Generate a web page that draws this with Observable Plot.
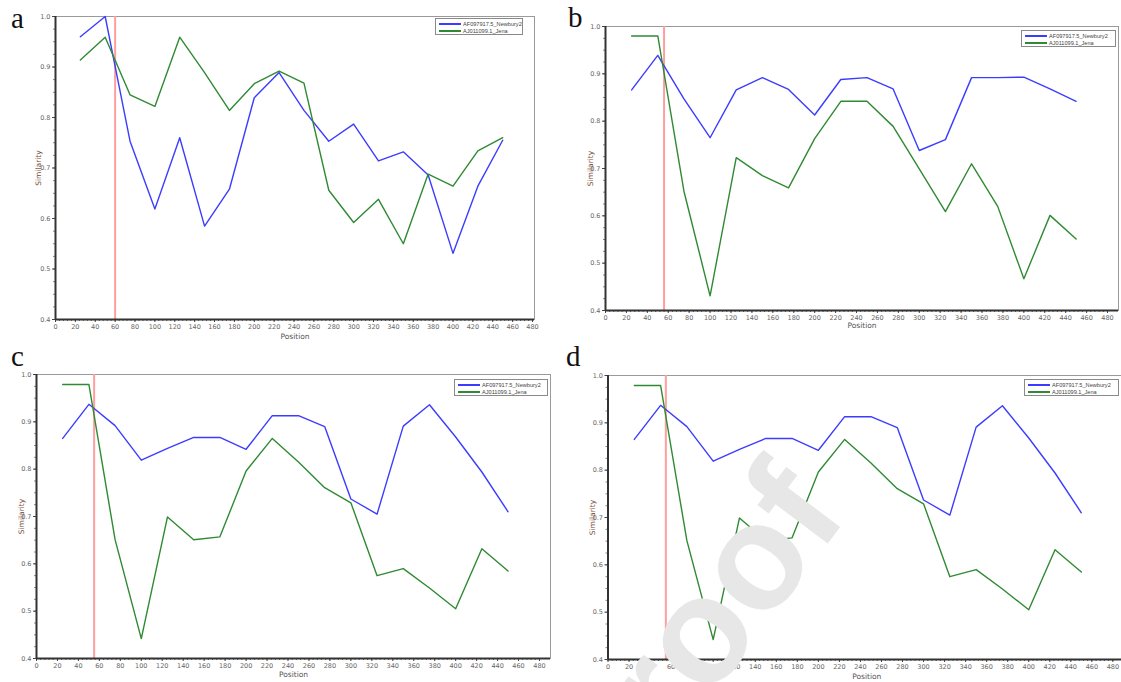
<!DOCTYPE html>
<html>
<head>
<meta charset="utf-8">
<script src="https://cdn.jsdelivr.net/npm/d3@7"></script>
<script src="https://cdn.jsdelivr.net/npm/@observablehq/plot@0.6"></script>
<style>
  html, body { margin: 0; padding: 0; background: #fff; }
  #root { position: relative; width: 1121px; height: 682px; overflow: hidden; background: #fff; }
  .panel { position: absolute; }
  .letter { position: absolute; font-family: "Liberation Serif", "DejaVu Serif", serif; font-size: 29px; line-height: 1; color: #111; }
  .legend { position: absolute; background: #fff; border: 1px solid #8a8a8a; font-family: "Liberation Sans", Arial, sans-serif; font-size: 5.6px; color: #444; padding: 1px 1px 1px 3px; box-sizing: border-box; overflow: hidden; z-index: 2; }
  .legend .row { display: flex; align-items: center; height: 7.5px; white-space: nowrap; }
  .legend .sw { display: block; flex: 0 0 22px; width: 22px; height: 2px; margin-right: 2px; }
  #wm { position: absolute; left: 0; top: 0; pointer-events: none; z-index: 3; }
</style>
</head>
<body>
<div id="root"></div>
<script>
// ---- data ----
const positions = [25, 50, 75, 100, 125, 150, 175, 200, 225, 250, 275, 300, 325, 350, 375, 400, 425, 450];
const seriesNames = ["AF097917.5_Newbury2", "AJ011099.1_Jena"];
const panelLetters = ["a", "b", "c", "d"];
const xTicks = [0, 20, 40, 60, 80, 100, 120, 140, 160, 180, 200, 220, 240, 260, 280, 300, 320, 340, 360, 380, 400, 420, 440, 460, 480];
const yTicks = [0.4, 0.5, 0.6, 0.7, 0.8, 0.9, 1.0];

const aNewbury = [0.960, 1.000, 0.753, 0.619, 0.760, 0.585, 0.658, 0.839, 0.889, 0.814, 0.753, 0.787, 0.714, 0.732, 0.686, 0.531, 0.664, 0.755];
const aJena    = [0.914, 0.959, 0.845, 0.822, 0.959, 0.889, 0.814, 0.867, 0.892, 0.868, 0.656, 0.592, 0.638, 0.550, 0.688, 0.664, 0.734, 0.760];
const bNewbury = [0.866, 0.939, 0.847, 0.765, 0.866, 0.892, 0.867, 0.813, 0.888, 0.892, 0.868, 0.738, 0.761, 0.892, 0.892, 0.893, 0.868, 0.842];
const bJena    = [0.980, 0.980, 0.652, 0.431, 0.723, 0.685, 0.659, 0.763, 0.842, 0.842, 0.789, 0.699, 0.609, 0.710, 0.620, 0.467, 0.601, 0.551];
const cNewbury = [0.865, 0.937, 0.892, 0.819, 0.844, 0.867, 0.867, 0.842, 0.913, 0.913, 0.890, 0.737, 0.705, 0.891, 0.936, 0.868, 0.794, 0.710];
const cJena    = [0.979, 0.979, 0.651, 0.442, 0.699, 0.651, 0.657, 0.796, 0.865, 0.815, 0.761, 0.729, 0.575, 0.590, 0.549, 0.505, 0.632, 0.585];
const dNewbury = [0.865, 0.937, 0.892, 0.819, 0.844, 0.867, 0.867, 0.842, 0.913, 0.913, 0.890, 0.737, 0.705, 0.891, 0.936, 0.868, 0.794, 0.710];
const dJena    = [0.979, 0.979, 0.651, 0.442, 0.699, 0.651, 0.657, 0.796, 0.865, 0.815, 0.761, 0.729, 0.575, 0.590, 0.549, 0.505, 0.632, 0.585];
const breakpoints = [60, 56, 55, 55];

const seriesByPanel = [[aNewbury, aJena], [bNewbury, bJena], [cNewbury, cJena], [dNewbury, dJena]];

// ---- layout ----
const colors = ["#3c3cff", "#2f8a33"];
const layouts = [
  {left: 0,   top: 0,   w: 560, h: 342, ml: 55,  mt: 16, plotRight: 534, plotBottom: 319, xmax: 482, ylabOff: 20, xlabOff: 19, letter: [11, 4],   legend: [435, 18, 88, 17]},
  {left: 560, top: 0,   w: 561, h: 342, ml: 45,  mt: 26, plotRight: 558, plotBottom: 310, xmax: 490.5, ylabOff: 18, xlabOff: 17, letter: [568, 3], legend: [1021, 30, 95, 17]},
  {left: 0,   top: 340, w: 560, h: 342, ml: 36,  mt: 34, plotRight: 550, plotBottom: 318, xmax: 490.5, ylabOff: 18, xlabOff: 18, letter: [11, 342], legend: [454, 379, 94, 17]},
  {left: 560, top: 340, w: 561, h: 342, ml: 47.5, mt: 35, plotRight: 565, plotBottom: 319, xmax: 492, ylabOff: 18, xlabOff: 19, letter: [566, 342], legend: [1024, 379, 95, 17]}
];

const root = document.getElementById("root");

layouts.forEach((L, i) => {
  const [nb, jn] = seriesByPanel[i];
  const data = [];
  positions.forEach((p, k) => {
    data.push({pos: p, sim: nb[k], series: seriesNames[0]});
    data.push({pos: p, sim: jn[k], series: seriesNames[1]});
  });
  const minorX = d3.range(0, 481, 4);
  const minorY = d3.range(0, 25).map(k => 0.4 + k * 0.025);
  const chart = Plot.plot({
    width: L.w,
    height: L.h,
    marginLeft: L.ml,
    marginTop: L.mt,
    marginRight: L.w - L.plotRight,
    marginBottom: L.h - L.plotBottom,
    x: {domain: [0, L.xmax]},
    y: {domain: [0.4, 1.0]},
    color: {domain: seriesNames, range: colors},
    style: {background: "transparent", fontFamily: "DejaVu Sans, sans-serif", fontSize: "6.5px", color: "#555", overflow: "visible"},
    marks: [
      Plot.frame({stroke: "#9a9a9a", strokeWidth: 1}),
      Plot.ruleX([breakpoints[i]], {stroke: "#ff9e9e", strokeWidth: 2}),
      Plot.line(data, {x: "pos", y: "sim", z: "series", stroke: "series", strokeWidth: 1.4}),
      Plot.axisX({ticks: minorX, tickSize: 2, text: null, label: null, stroke: "#666"}),
      Plot.axisX({ticks: xTicks, tickSize: 3, tickPadding: 2, stroke: "#444", fill: "#666",
                  label: "Position", labelAnchor: "center", labelArrow: "none", labelOffset: L.xlabOff}),
      Plot.axisY({ticks: minorY, tickSize: 2, text: null, label: null, stroke: "#888"}),
      Plot.axisY({ticks: yTicks, tickSize: 3, tickPadding: 2, stroke: "#444", fill: "#666", tickFormat: d3.format(".1f"),
                  label: "Similarity", labelAnchor: "center", labelArrow: "none", labelOffset: L.ylabOff}),
      Plot.ruleY([0.4], {stroke: "#333", strokeWidth: 2}),
      Plot.ruleX([0], {stroke: "#333", strokeWidth: 2})
    ]
  });
  const wrap = document.createElement("div");
  wrap.className = "panel";
  wrap.style.left = L.left + "px";
  wrap.style.top = L.top + "px";
  wrap.appendChild(chart);
  root.appendChild(wrap);
  chart.querySelectorAll("g[aria-label='y-axis label'] text").forEach(t => { t.setAttribute("fill", "#7a4e3c"); t.style.fontSize = "7.5px"; });
  chart.querySelectorAll("g[aria-label='x-axis label'] text").forEach(t => { t.setAttribute("fill", "#555"); t.style.fontSize = "7.5px"; });

  // panel letter
  const lt = document.createElement("div");
  lt.className = "letter";
  lt.style.left = L.letter[0] + "px";
  lt.style.top = L.letter[1] + "px";
  lt.textContent = panelLetters[i];
  root.appendChild(lt);

  // legend
  const lg = document.createElement("div");
  lg.className = "legend";
  lg.style.left = L.legend[0] + "px";
  lg.style.top = L.legend[1] + "px";
  lg.style.width = L.legend[2] + "px";
  lg.style.height = L.legend[3] + "px";
  seriesNames.forEach((s, k) => {
    const row = document.createElement("div");
    row.className = "row";
    const sw = document.createElement("span");
    sw.className = "sw";
    sw.style.backgroundColor = colors[k];
    row.appendChild(sw);
    const tx = document.createElement("span");
    tx.textContent = s;
    row.appendChild(tx);
    lg.appendChild(row);
  });
  root.appendChild(lg);
});

// watermark
const ns = "http://www.w3.org/2000/svg";
const wm = document.createElementNS(ns, "svg");
wm.setAttribute("id", "wm");
wm.setAttribute("width", 1121);
wm.setAttribute("height", 682);
const cx = 690, cy = 640;
const t = document.createElementNS(ns, "text");
t.setAttribute("x", cx);
t.setAttribute("y", cy);
t.setAttribute("text-anchor", "middle");
t.setAttribute("dominant-baseline", "central");
t.setAttribute("transform", `rotate(-53 ${cx} ${cy})`);
t.setAttribute("font-family", "Liberation Sans, Arial, sans-serif");
t.setAttribute("font-weight", "bold");
t.setAttribute("font-size", "150");
t.setAttribute("fill", "#e7e7e7");
t.textContent = "Proof";
wm.appendChild(t);
root.appendChild(wm);
</script>
</body>
</html>
